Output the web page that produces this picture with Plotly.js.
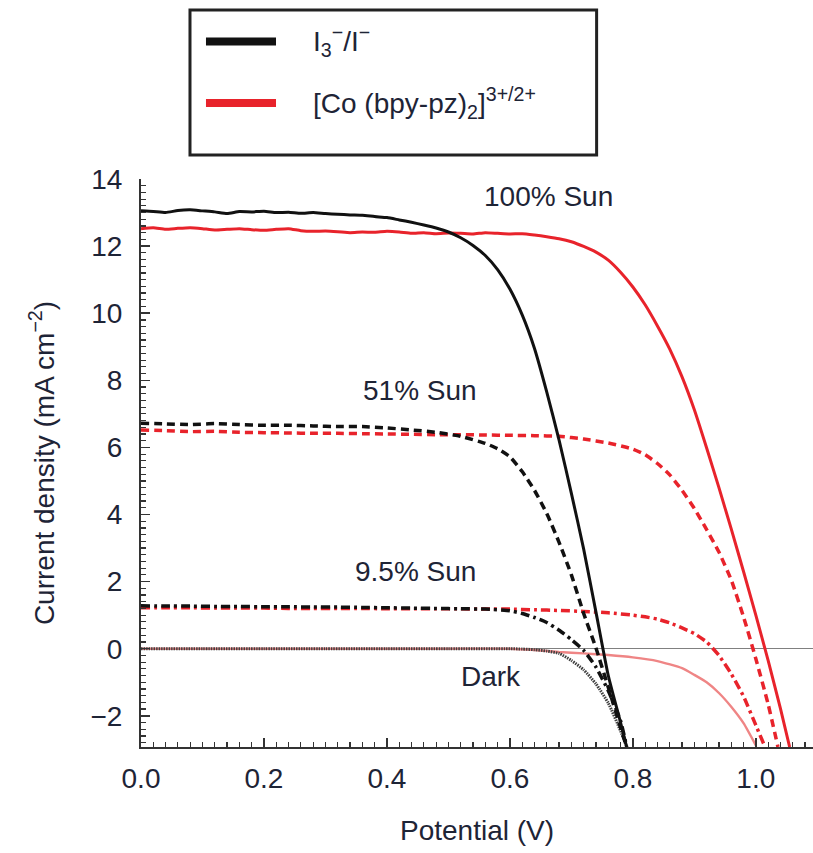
<!DOCTYPE html>
<html>
<head>
<meta charset="utf-8">
<script src="https://cdn.plot.ly/plotly-3.0.1.min.js"></script>
<style>
  html, body { margin: 0; padding: 0; background: #fff; }
  #chart { width: 813px; height: 853px; }
</style>
</head>
<body>
<div id="chart"></div>
<script>
// J–V curves of dye-sensitised cells: I3-/I- electrolyte (black) vs cobalt complex (red)
// Potential in V, current density in mA cm^-2

// 100% sun, I3-/I-
const V_I_100 = [0.00,0.02,0.04,0.06,0.08,0.10,0.12,0.14,0.16,0.18,0.20,0.22,0.24,0.26,0.28,0.30,0.32,0.34,0.36,0.38,0.40,0.42,0.44,0.46,0.48,0.50,0.52,0.54,0.56,0.58,0.60,0.62,0.64,0.66,0.68,0.70,0.72,0.74,0.76,0.78,0.79];
const J_I_100 = [13.05,13.03,13.00,13.06,13.08,13.05,13.02,12.97,13.03,13.02,13.04,13.00,13.01,12.98,13.00,12.97,12.95,12.93,12.92,12.88,12.85,12.78,12.71,12.63,12.54,12.42,12.25,12.02,11.72,11.30,10.72,9.95,8.95,7.65,6.22,4.63,2.97,1.09,-0.80,-2.20,-2.93];

// 100% sun, Co(bpy-pz)2
const V_CO_100 = [0.00,0.02,0.04,0.06,0.08,0.10,0.12,0.14,0.16,0.18,0.20,0.22,0.24,0.26,0.28,0.30,0.32,0.34,0.36,0.38,0.40,0.42,0.44,0.46,0.48,0.50,0.52,0.54,0.56,0.58,0.60,0.62,0.64,0.66,0.68,0.70,0.72,0.74,0.76,0.78,0.80,0.82,0.84,0.86,0.88,0.90,0.92,0.94,0.96,0.98,1.00,1.02,1.04,1.055];
const J_CO_100 = [12.52,12.55,12.50,12.53,12.55,12.52,12.48,12.50,12.52,12.49,12.47,12.50,12.52,12.46,12.44,12.45,12.43,12.40,12.42,12.41,12.44,12.42,12.38,12.40,12.37,12.39,12.38,12.36,12.40,12.38,12.36,12.37,12.33,12.28,12.22,12.13,11.99,11.82,11.58,11.22,10.78,10.25,9.62,8.93,8.10,7.12,5.98,4.80,3.57,2.30,1.00,-0.35,-1.78,-2.93];

// 51% sun
const V_I_51 = [0.00,0.04,0.08,0.12,0.16,0.20,0.24,0.28,0.32,0.36,0.40,0.44,0.48,0.52,0.56,0.58,0.60,0.62,0.64,0.66,0.68,0.70,0.72,0.74,0.76,0.78,0.79];
const J_I_51 = [6.72,6.70,6.68,6.71,6.68,6.66,6.66,6.64,6.62,6.62,6.58,6.52,6.45,6.33,6.12,5.96,5.72,5.28,4.72,4.03,3.17,2.20,1.05,0.02,-1.15,-2.35,-2.93];
const V_CO_51 = [0.00,0.04,0.08,0.12,0.16,0.20,0.24,0.28,0.32,0.36,0.40,0.44,0.48,0.52,0.56,0.60,0.64,0.68,0.72,0.76,0.80,0.82,0.84,0.86,0.88,0.90,0.92,0.94,0.96,0.98,1.00,1.02,1.036];
const J_CO_51 = [6.52,6.50,6.47,6.48,6.45,6.44,6.43,6.42,6.42,6.41,6.40,6.39,6.38,6.38,6.37,6.36,6.35,6.33,6.25,6.13,5.95,5.78,5.52,5.18,4.72,4.18,3.55,2.88,2.05,0.95,-0.30,-1.65,-2.93];

// 9.5% sun
const V_I_95 = [0.00,0.04,0.08,0.12,0.16,0.20,0.24,0.28,0.32,0.36,0.40,0.44,0.48,0.52,0.56,0.60,0.62,0.64,0.66,0.68,0.70,0.72,0.74,0.76,0.78,0.79];
const J_I_95 = [1.28,1.27,1.27,1.26,1.26,1.25,1.25,1.24,1.24,1.23,1.22,1.21,1.20,1.19,1.18,1.13,1.05,0.93,0.78,0.55,0.27,-0.05,-0.55,-1.25,-2.15,-2.93];
const V_CO_95 = [0.00,0.04,0.08,0.12,0.16,0.20,0.24,0.28,0.32,0.36,0.40,0.44,0.48,0.52,0.56,0.60,0.64,0.68,0.72,0.76,0.80,0.82,0.84,0.86,0.88,0.90,0.92,0.94,0.96,0.98,1.00,1.015];
const J_CO_95 = [1.22,1.22,1.22,1.21,1.21,1.21,1.20,1.20,1.20,1.20,1.19,1.19,1.19,1.19,1.18,1.18,1.16,1.14,1.11,1.07,1.00,0.95,0.88,0.77,0.62,0.45,0.20,-0.20,-0.75,-1.42,-2.28,-2.93];

// dark
const V_I_DARK = [0.00,0.10,0.20,0.30,0.40,0.50,0.60,0.62,0.64,0.66,0.68,0.70,0.72,0.74,0.76,0.78,0.79];
const J_I_DARK = [0,0,0,0,0,0,0,-0.01,-0.03,-0.07,-0.14,-0.35,-0.63,-1.05,-1.62,-2.45,-2.93];
const V_CO_DARK = [0.00,0.10,0.20,0.30,0.40,0.50,0.60,0.64,0.68,0.72,0.76,0.80,0.84,0.88,0.90,0.92,0.94,0.96,0.98,1.00];
const J_CO_DARK = [0,0,0,0,0,0,0,-0.04,-0.10,-0.14,-0.19,-0.26,-0.37,-0.58,-0.78,-1.00,-1.32,-1.73,-2.22,-2.88];

const CURVE_LABELS = ['100% Sun', '51% Sun', '9.5% Sun', 'Dark'];
const LABEL_V = [0.663, 0.453, 0.447, 0.569];
const LABEL_J = [13.47, 7.70, 2.31, -0.82];

const LEGEND_NAMES = ['I<sub>3</sub><sup>−</sup>/I<sup>−</sup>', '[Co (bpy-pz)<sub>2</sub>]<sup>3+/2+</sup>'];

const BLACK = '#111111';
const RED = '#e8232b';
const TEXT = '#1e2436';
const FONT = 'Liberation Sans, Arial, Helvetica, sans-serif';

function curve(x, y, color, width, dash) {
  return { x: x, y: y, type: 'scatter', mode: 'lines', hoverinfo: 'skip',
           line: { color: color, width: width, dash: dash, shape: 'spline', smoothing: 0.5 } };
}

const traces = [
  curve(V_CO_DARK, J_CO_DARK, '#ef8585', 2.4, 'solid'),
  curve(V_I_DARK, J_I_DARK, '#404040', 3, '1.5px,1px'),
  curve(V_CO_95, J_CO_95, RED, 3.5, '9px,4px,3px,4px'),
  curve(V_I_95, J_I_95, BLACK, 3.5, '9px,4px,3px,4px'),
  curve(V_CO_51, J_CO_51, RED, 3.5, '8px,5px'),
  curve(V_I_51, J_I_51, BLACK, 3.5, '8px,5px'),
  curve(V_CO_100, J_CO_100, RED, 3, 'solid'),
  curve(V_I_100, J_I_100, BLACK, 3, 'solid')
];

const annotations = CURVE_LABELS.map((t, i) => ({
  x: LABEL_V[i], y: LABEL_J[i], xref: 'x', yref: 'y', text: t, showarrow: false,
  font: { family: FONT, size: 28, color: TEXT }, xanchor: 'center', yanchor: 'middle'
}));

// legend box: frame, line samples and labels in paper coordinates
const LEG_LINE_Y = [1.2421, 1.1338];
const LEG_COLORS = [BLACK, RED];
const shapes = [
  { type: 'rect', xref: 'paper', yref: 'paper', x0: 0.0729, x1: 0.678, y0: 1.0423, y1: 1.2975,
    line: { color: '#222', width: 3 }, fillcolor: 'rgba(0,0,0,0)' }
];
LEG_LINE_Y.forEach((y, i) => {
  shapes.push({ type: 'line', xref: 'paper', yref: 'paper', x0: 0.0967, x1: 0.2009, y0: y, y1: y,
                line: { color: LEG_COLORS[i], width: 8 } });
  annotations.push({ xref: 'paper', yref: 'paper', x: 0.253, y: y, text: LEGEND_NAMES[i],
                     showarrow: false, xanchor: 'left', yanchor: 'middle',
                     font: { family: FONT, size: 28, color: TEXT } });
});

const axisCommon = {
  showline: true, linecolor: '#333', linewidth: 2, mirror: false,
  ticks: 'inside', ticklen: 9, tickwidth: 1.5, tickcolor: '#333',
  showgrid: false, tickfont: { family: FONT, size: 28, color: TEXT }
};

const layout = {
  width: 813, height: 853,
  margin: { l: 141, r: 0, t: 179, b: 106 },
  paper_bgcolor: '#fff', plot_bgcolor: '#fff',
  showlegend: false,
  font: { family: FONT, color: TEXT },
  xaxis: Object.assign({}, axisCommon, {
    range: [0, 1.093], tick0: 0, dtick: 0.2, tickformat: '.1f', zeroline: false,
    minor: { dtick: 0.02, ticks: 'inside', ticklen: 5, tickwidth: 1.2, tickcolor: '#333', showgrid: false },
    ticklabelstandoff: 5,
    title: { text: 'Potential (V)', font: { family: FONT, size: 28, color: TEXT }, standoff: 28 }
  }),
  yaxis: Object.assign({}, axisCommon, {
    range: [-2.93, 14], tick0: 0, dtick: 2, zeroline: true, zerolinecolor: '#808080', zerolinewidth: 1.5,
    minor: { dtick: 0.2, ticks: 'inside', ticklen: 5, tickwidth: 1.2, tickcolor: '#333', showgrid: false },
    ticklabelstandoff: 11,
    title: { text: 'Current density (mA cm<sup>−2</sup>)', font: { family: FONT, size: 28, color: TEXT }, standoff: 28 }
  }),
  shapes: shapes,
  annotations: annotations
};

Plotly.newPlot('chart', traces, layout, { displayModeBar: false, staticPlot: true });
</script>
</body>
</html>
